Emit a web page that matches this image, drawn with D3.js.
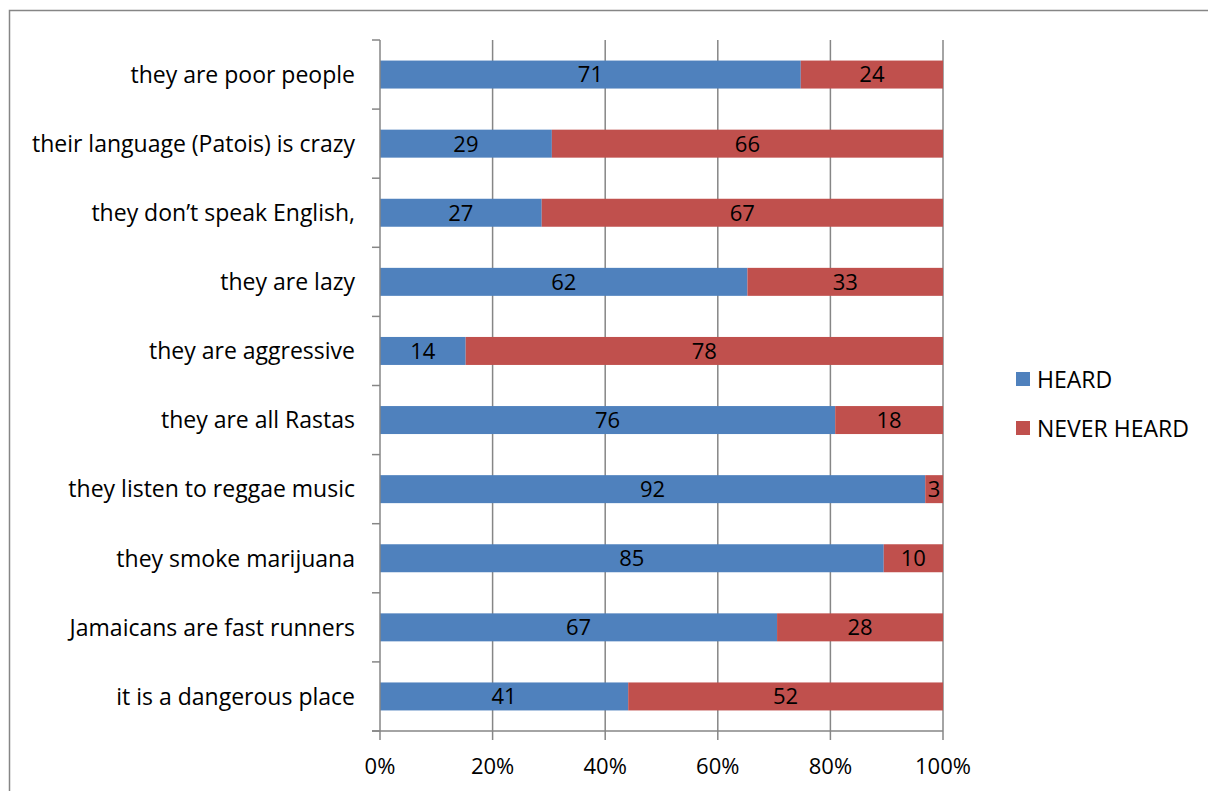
<!DOCTYPE html>
<html>
<head>
<meta charset="utf-8">
<script src="https://cdn.jsdelivr.net/npm/d3@7"></script>
<style>
  html, body { margin: 0; padding: 0; background: #fff; }
  svg { display: block; }
  text { font-family: "Open Sans", "Noto Sans", sans-serif; fill: #000; }
</style>
</head>
<body>
<svg id="chart" width="1208" height="791"></svg>
<script>
// Statements, top to bottom
const categories = [
  "they are poor people",
  "their language (Patois) is crazy",
  "they don\u2019t speak English,",
  "they are lazy",
  "they are aggressive",
  "they are all Rastas",
  "they listen to reggae music",
  "they smoke marijuana",
  "Jamaicans are fast runners",
  "it is a dangerous place"
];
const heard = [71, 29, 27, 62, 14, 76, 92, 85, 67, 41];
const neverHeard = [24, 66, 67, 33, 78, 18, 3, 10, 28, 52];
const seriesNames = ["HEARD", "NEVER HEARD"];
const seriesColors = ["#4F81BD", "#C0504D"];
const tickValues = [0, 0.2, 0.4, 0.6, 0.8, 1.0];

const FS = 23;
const svg = d3.select("#chart");

// outer chart frame
svg.append("rect")
  .attr("x", 9.5).attr("y", 10.5)
  .attr("width", 1220).attr("height", 800)
  .attr("fill", "none").attr("stroke", "#868686").attr("stroke-width", 1.5);

const x = d3.scaleLinear().domain([0, 1]).range([380, 943]);
const y = d3.scaleBand().domain(categories).range([40, 731]).paddingInner(0.595).paddingOuter(0.2975);

// 100% stacked rows
const rows = categories.map((c, i) => ({ cat: c, HEARD: heard[i], "NEVER HEARD": neverHeard[i] }));
const stack = d3.stack().keys(seriesNames).offset(d3.stackOffsetExpand);
const layers = stack(rows);

// vertical gridlines
svg.append("g").selectAll("line")
  .data(tickValues.slice(1))
  .join("line")
  .attr("x1", d => x(d)).attr("x2", d => x(d))
  .attr("y1", 40).attr("y2", 731)
  .attr("stroke", "#868686").attr("stroke-width", 1.5);

// bars
const g = svg.append("g");
layers.forEach((layer, li) => {
  g.append("g").selectAll("rect")
    .data(layer)
    .join("rect")
    .attr("x", d => x(d[0]))
    .attr("y", d => y(d.data.cat))
    .attr("width", d => x(d[1]) - x(d[0]))
    .attr("height", y.bandwidth())
    .attr("fill", seriesColors[li]);
});

// value labels
layers.forEach((layer) => {
  g.append("g").selectAll("text")
    .data(layer)
    .join("text")
    .attr("x", d => (x(d[0]) + x(d[1])) / 2)
    .attr("y", d => y(d.data.cat) + y.bandwidth() / 2)
    .attr("dy", "0.36em")
    .attr("text-anchor", "middle")
    .attr("font-size", FS - 1)
    .text(d => d.data[layer.key]);
});

// category axis
const yStep = y.step();
const axisY = svg.append("g");
axisY.append("line")
  .attr("x1", 380).attr("x2", 380).attr("y1", 40).attr("y2", 731)
  .attr("stroke", "#868686").attr("stroke-width", 1.5);
axisY.selectAll("line.tick")
  .data(d3.range(categories.length + 1))
  .join("line").attr("class", "tick")
  .attr("x1", 372).attr("x2", 380)
  .attr("y1", i => 40 + i * yStep).attr("y2", i => 40 + i * yStep)
  .attr("stroke", "#868686").attr("stroke-width", 1.5);
axisY.selectAll("text")
  .data(categories)
  .join("text")
  .attr("x", 355)
  .attr("y", d => y(d) + y.bandwidth() / 2)
  .attr("dy", "0.36em")
  .attr("text-anchor", "end")
  .attr("font-size", FS)
  .text(d => d);

// value axis
const axisX = svg.append("g");
axisX.append("line")
  .attr("x1", 372).attr("x2", 943).attr("y1", 731).attr("y2", 731)
  .attr("stroke", "#868686").attr("stroke-width", 1.5);
axisX.selectAll("line.tick")
  .data(tickValues)
  .join("line").attr("class", "tick")
  .attr("x1", d => x(d)).attr("x2", d => x(d))
  .attr("y1", 731).attr("y2", 740)
  .attr("stroke", "#868686").attr("stroke-width", 1.5);
axisX.selectAll("text")
  .data(tickValues)
  .join("text")
  .attr("x", d => x(d))
  .attr("y", 774)
  .attr("text-anchor", "middle")
  .attr("font-size", FS - 1)
  .text(d3.format(".0%"));

// legend
const legend = svg.append("g");
seriesNames.forEach((name, i) => {
  const ly = 380 + i * 49;
  legend.append("rect")
    .attr("x", 1016).attr("y", ly - 8)
    .attr("width", 14).attr("height", 14)
    .attr("fill", seriesColors[i]);
  legend.append("text")
    .attr("x", 1037).attr("y", ly)
    .attr("dy", "0.36em")
    .attr("font-size", FS)
    .text(name);
});
</script>
</body>
</html>
